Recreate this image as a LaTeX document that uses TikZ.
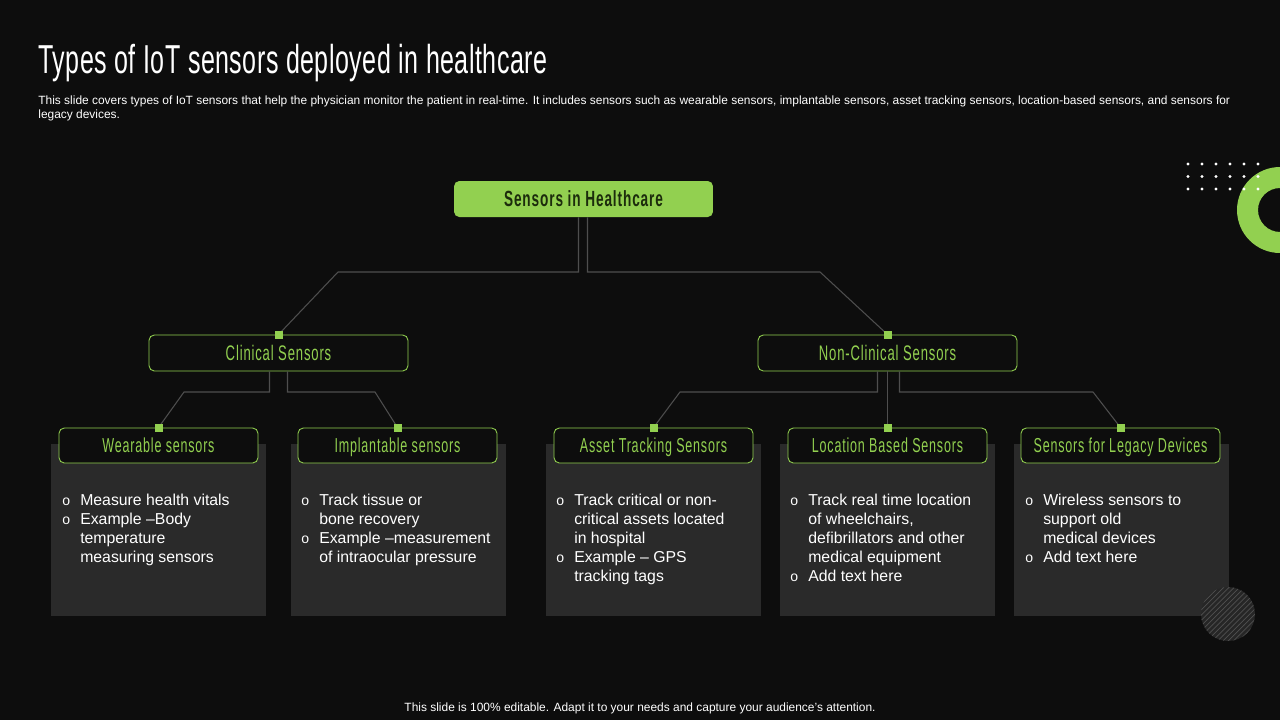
\documentclass[tikz,border=0pt]{standalone}
\usepackage{fontspec}
\setmainfont{Liberation Sans}
\newfontfamily\agency[FakeStretch=0.62, LetterSpace=4]{Liberation Sans}
\newfontfamily\agencyhead[FakeStretch=0.62, LetterSpace=1.2]{Liberation Sans}
\definecolor{limegreen}{RGB}{146, 208, 80}
\definecolor{deepgreen}{RGB}{28, 44, 12}
\definecolor{slidebg}{RGB}{13, 13, 13}
\definecolor{panelgray}{RGB}{42, 42, 42}
\definecolor{wiregray}{RGB}{78, 78, 78}
\usetikzlibrary{calc, patterns}
\tikzset{
	rootbox/.style={rectangle, rounded corners=3pt, fill=limegreen, minimum width=5.18cm, minimum height=0.72cm, inner sep=0pt, text height=9pt, text depth=0pt, font=\agency\fontsize{12.5}{14}\selectfont\bfseries, text=deepgreen},
	groupbox/.style={rectangle, rounded corners=3pt, draw=limegreen, fill=slidebg, line width=0.5pt, minimum width=5.18cm, minimum height=0.72cm, inner sep=0pt, text height=8.6pt, text depth=0pt, font=\agency\fontsize{12}{14}\selectfont, text=limegreen},
	leafbox/.style={rectangle, rounded corners=3pt, draw=limegreen, fill=slidebg, line width=0.5pt, minimum width=3.98cm, minimum height=0.7cm, inner sep=0pt, text height=8.3pt, text depth=0pt, font=\agency\fontsize{11.5}{13}\selectfont, text=limegreen},
	panel/.style={rectangle, fill=panelgray, minimum width=4.3cm, minimum height=3.44cm, anchor=north west, inner sep=0pt},
	bullets/.style={anchor=north west, inner sep=0pt, text=white, font=\fontsize{9}{10.8}\selectfont, align=left},
	wire/.style={draw=wiregray, line width=0.6pt},
	sqdot/.style={rectangle, fill=limegreen, minimum size=0.16cm, inner sep=0pt},
}
\newcommand{\bul}{{\fontsize{8}{8}\selectfont o}}

\begin{document}
\begin{tikzpicture}[x=0.02cm, y=-0.02cm]
	\clip (0,0) rectangle (1280,720);
	\fill[slidebg] (0,0) rectangle (1280,720);
	% heading
	\node[anchor=base west, inner sep=0pt, text=white, font=\agencyhead\fontsize{23}{26}\selectfont] (title) at (38,73) {Types of IoT sensors deployed in healthcare};
	\node[anchor=north west, inner sep=0pt, text=white, align=left, font=\fontsize{6.8}{8}\selectfont] (intro) at (38,95) {This slide covers types of IoT  sensors that help the physician monitor the patient in real-time. It includes sensors such as wearable sensors, implantable sensors, asset tracking sensors, location-based sensors, and sensors for\\legacy devices.};
	% corner decoration
	\fill[limegreen, even odd rule] (1280,210) circle (0.86cm) (1280,210) circle (0.44cm);
	\foreach \i in {0,...,5}{\foreach \j in {0,1,2}{\fill[white] (1188+14*\i,164+12.5*\j) circle (0.034cm);}}
	% grey panels
	\node[panel] (pwear) at (51,444) {};
	\node[panel] (pimpl) at (291,444) {};
	\node[panel] (passet) at (546,444) {};
	\node[panel] (ploc) at (780,444) {};
	\node[panel] (plegacy) at (1014,444) {};
	\fill[panelgray!85!slidebg] (1228,614) circle (0.54cm);
	\fill[pattern=north east lines, pattern color=gray!45!panelgray] (1228,614) circle (0.54cm);
	% tree
	\node[rootbox] (hc) at (583.5,199) {Sensors in Healthcare};
	\node[groupbox] (clin) at (278.5,353) {Clinical Sensors};
	\node[groupbox] (nonclin) at (887.5,353) {Non-Clinical Sensors};
	\node[leafbox] (wear) at (158.5,445.5) {Wearable sensors};
	\node[leafbox] (impl) at (397.5,445.5) {Implantable sensors};
	\node[leafbox] (asset) at (653.5,445.5) {Asset Tracking Sensors};
	\node[leafbox] (loc) at (887.5,445.5) {Location Based Sensors};
	\node[leafbox] (legacy) at (1120.5,445.5) {Sensors for Legacy Devices};
	\foreach \a/\dx/\bx/\by/\b in {hc/-5/338/272/clin, hc/4/820/272/nonclin, clin/-9/184/392/wear, clin/9/375/392/impl, nonclin/-10/680/392/asset, nonclin/12/1093/392/legacy}{\draw[wire] ($(\a.south)+(\dx,0)$) |- (\bx,\by) -- (\b.north);}
	\draw[wire] (nonclin.south) -- (loc.north);
	\foreach \n in {clin,nonclin,wear,impl,asset,loc,legacy}{\node[sqdot] (d-\n) at (\n.north) {};}
	% bullet texts
	\node[bullets] (twear) at (62,492) {\begin{tabular}{@{}p{10.2pt}@{}l@{}}\bul & Measure health vitals\\ \bul & Example --Body\\ & temperature\\ & measuring sensors\end{tabular}};
	\node[bullets] (timpl) at (301,492) {\begin{tabular}{@{}p{10.2pt}@{}l@{}}\bul & Track tissue or\\ & bone recovery\\ \bul & Example --measurement\\ & of intraocular pressure\end{tabular}};
	\node[bullets] (tasset) at (556,492) {\begin{tabular}{@{}p{10.2pt}@{}l@{}}\bul & Track critical or non-\\ & critical assets located\\ & in hospital\\ \bul & Example -- GPS\\ & tracking tags\end{tabular}};
	\node[bullets] (tloc) at (790,492) {\begin{tabular}{@{}p{10.2pt}@{}l@{}}\bul & Track real time location\\ & of wheelchairs,\\ & defibrillators and other\\ & medical equipment\\ \bul & Add text here\end{tabular}};
	\node[bullets] (tlegacy) at (1025,492) {\begin{tabular}{@{}p{10.2pt}@{}l@{}}\bul & Wireless sensors to\\ & support old\\ & medical devices\\ \bul & Add text here\end{tabular}};
	% footer
	\node[text=white, inner sep=0pt, font=\fontsize{6.8}{8}\selectfont] (foot) at (640,708) {This slide is 100\% editable. Adapt it to your needs and capture your audience's attention.};
\end{tikzpicture}
\end{document}
